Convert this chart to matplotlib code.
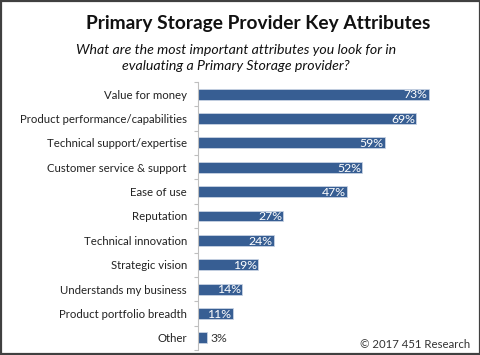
import matplotlib.pyplot as plt
import numpy as np

plt.rcParams['font.family'] = ['Lato', 'DejaVu Sans']

categories = ['Value for money', 'Product performance/capabilities',
              'Technical support/expertise', 'Customer service & support',
              'Ease of use', 'Reputation', 'Technical innovation',
              'Strategic vision', 'Understands my business',
              'Product portfolio breadth', 'Other']
values = [73, 69, 59, 52, 47, 27, 24, 19, 14, 11, 3]

W, H = 481, 355
fig = plt.figure(figsize=(W / 100, H / 100), dpi=100)

# axes placed in pixel units
x0, x1, y0, y1 = 198, 451, 82, 350
ax = fig.add_axes([x0 / W, 1 - y1 / H, (x1 - x0) / W, (y1 - y0) / H])

y = np.arange(len(categories))
ax.barh(y, values, height=0.45, color='#375E93', edgecolor='#c8d3e3', linewidth=0.6)
ax.set_xlim(0, 80)
ax.set_ylim(len(categories) - 0.5, -0.5)

for yi, v in zip(y, values):
    if v >= 10:
        ax.text(v - 0.4, yi + 0.03, f'{v}%', ha='right', va='center',
                color='white', fontsize=8.8)
    else:
        ax.text(v + 0.8, yi + 0.03, f'{v}%', ha='left', va='center',
                color='#333333', fontsize=8.8)

ax.set_yticks(y)
ax.set_yticklabels(categories, fontsize=8.2, color='#222222')
ax.tick_params(axis='y', which='major', length=0, pad=8)
ax.set_yticks(np.arange(-0.5, len(categories), 1), minor=True)
ax.tick_params(axis='y', which='minor', length=3, color='#bfbfbf', width=0.8)
ax.set_xticks([])
for s in ['top', 'right', 'bottom']:
    ax.spines[s].set_visible(False)
ax.spines['left'].set_color('#bfbfbf')
ax.spines['left'].set_linewidth(0.8)

fig.text(258 / W, 1 - 23 / H, 'Primary Storage Provider Key Attributes',
         ha='center', va='center', fontsize=13.8, fontweight='bold', color='#111111')
fig.text(236 / W, 1 - 58 / H,
         'What are the most important attributes you look for in\nevaluating a Primary Storage provider?',
         ha='center', va='center', fontsize=10.2, style='italic', color='#111111',
         linespacing=1.3)
fig.text(470 / W, 1 - 344 / H, '\u00a9 2017 451 Research', ha='right', va='center',
         fontsize=8.2, color='#333333')

# outer frame
fig.patches.append(plt.Rectangle((0.002, 0.003), 0.995, 0.994, transform=fig.transFigure,
                                 fill=False, edgecolor='#404040', linewidth=1.6))

fig.savefig('out.png', dpi=100)
